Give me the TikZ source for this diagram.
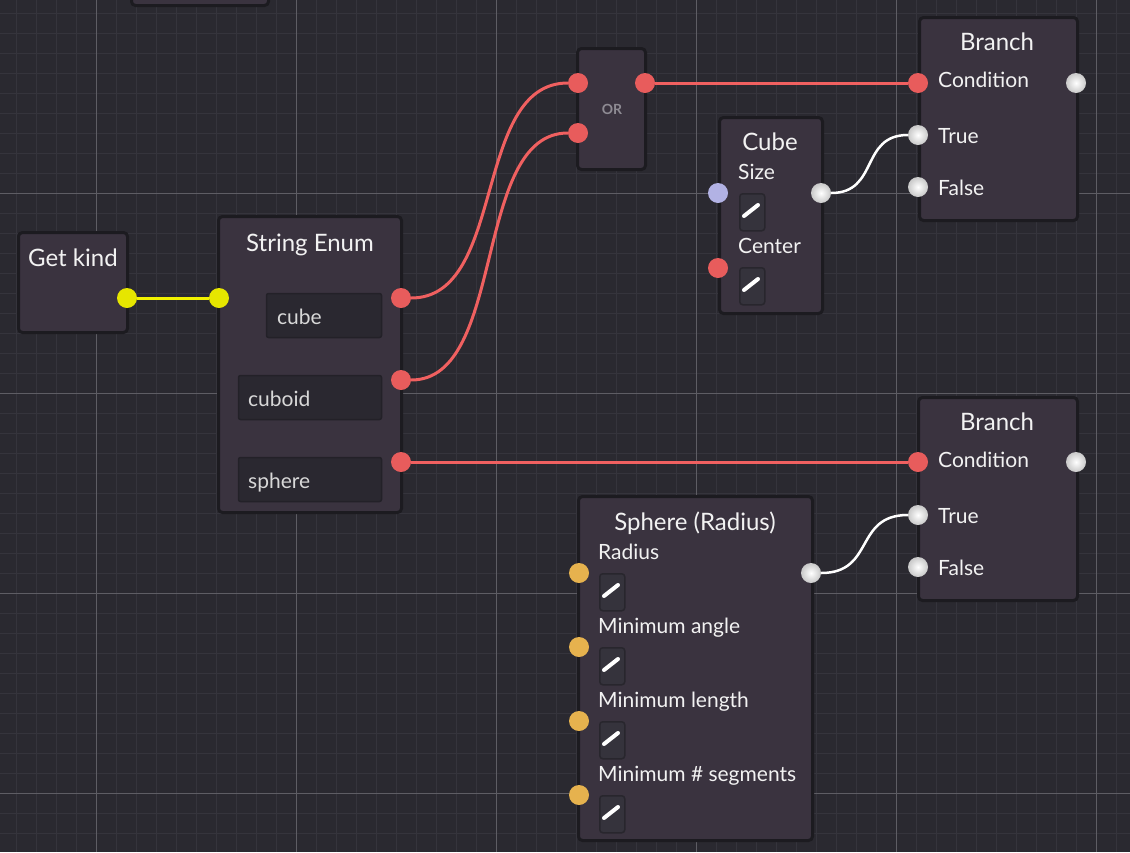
\documentclass[tikz,border=0pt]{standalone}
\usepackage{fontspec}
\setmainfont{Lato}
\definecolor{bg}{HTML}{2A2930}
\definecolor{gridminor}{HTML}{35343C}
\definecolor{gridmajor}{HTML}{5E5D64}
\definecolor{nodefill}{HTML}{3A333F}
\definecolor{nodeborder}{HTML}{1C1B20}
\definecolor{fieldfill}{HTML}{2A2830}
\definecolor{fieldborder}{HTML}{232128}
\definecolor{btnfill}{HTML}{35333C}
\definecolor{btnborder}{HTML}{28262D}
\definecolor{portred}{HTML}{E85C5C}
\definecolor{wirered}{HTML}{F06060}
\definecolor{portyellow}{HTML}{E6E600}
\definecolor{wireyellow}{HTML}{F2F200}
\definecolor{portwhite}{HTML}{E4E4E4}
\definecolor{portlav}{HTML}{B2B2E4}
\definecolor{portorange}{HTML}{E6B24E}
\definecolor{txt}{HTML}{F2F2F2}
\definecolor{fieldtxt}{HTML}{D8D8D8}
\definecolor{ortxt}{HTML}{8E8B93}
\tikzset{
  body/.style={draw=nodeborder, line width=3pt, fill=nodefill, rounded corners=4pt},
  field/.style={draw=fieldborder, line width=1.5pt, fill=fieldfill, rounded corners=2pt},
  btn/.style={draw=btnborder, line width=1.5pt, fill=btnfill, rounded corners=3pt,
    anchor=north west, minimum width=25pt, minimum height=37pt, inner sep=0pt},
  pencil/.style={draw=white, line width=4pt, line cap=round},
  port/.style={circle, inner sep=0pt, minimum size=20pt, fill=#1},
  wport/.style={circle, inner sep=0pt, minimum size=20pt, inner color=white, outer color=portwhite!88!black, shading=radial},
  title/.style={anchor=base, text=txt, font=\fontsize{24}{28}\selectfont, inner sep=0pt},
  lbl/.style={anchor=base west, text=txt, font=\fontsize{21}{25}\selectfont, inner sep=0pt},
  ftxt/.style={anchor=base west, text=fieldtxt, font=\fontsize{21}{25}\selectfont, inner sep=0pt},
  wire/.style={draw=#1, line width=3pt},
  wwire/.style={draw=white, line width=2.5pt},
}
\begin{document}
\begin{tikzpicture}[x=1pt,y=-1pt]
\useasboundingbox (0,0) rectangle (1130,852);
\fill[bg] (0,0) rectangle (1130,852);
% grid
\foreach \i in {0,...,56} \draw[gridminor, line width=1pt] ({16.7+20*\i},0) -- ({16.7+20*\i},852);
\foreach \j in {0,...,42} \draw[gridminor, line width=1pt] (0,{13.3+20*\j}) -- (1130,{13.3+20*\j});
\foreach \i in {0,...,5} \draw[gridmajor, line width=1pt] ({96.7+200*\i},0) -- ({96.7+200*\i},852);
\foreach \j in {0,...,3} \draw[gridmajor, line width=1pt] (0,{193.3+200*\j}) -- (1130,{193.3+200*\j});

% partial node at top
\begin{scope}
\clip (0,0) rectangle (1130,852);
\draw[body] (131.5,-20) rectangle (268.5,5.5);
\end{scope}

% node bodies
\draw[body] (18.5,232.5) rectangle (127.5,332.5);
\node[title] (gktitle) at (73,266) {Get kind};

\draw[body] (218.5,216.5) rectangle (401.5,512.5);
\node[title] (setitle) at (310,251) {String Enum};
\draw[field] (266.5,293.5) rectangle (381.5,337.5);
\draw[field] (238.5,375.5) rectangle (381.5,419.5);
\draw[field] (238.5,457.5) rectangle (381.5,501.5);
\node[ftxt] (fcube) at (277,324) {cube};
\node[ftxt] (fcuboid) at (248,406) {cuboid};
\node[ftxt] (fsphere) at (248,488) {sphere};

\draw[body] (577.5,48.5) rectangle (645.5,169.5);
\node[anchor=center, text=ortxt, font=\fontsize{14}{16}\selectfont\bfseries, inner sep=0pt] (ortitle) at (612,109) {OR};

\draw[body] (719.5,117.5) rectangle (822.5,313.5);
\node[title] (cubetitle) at (770,150) {Cube};
\node[lbl] (lsize) at (738,179) {Size};
\node[lbl] (lcenter) at (738,253) {Center};

\draw[body] (919.5,17.5) rectangle (1077.5,220.5);
\node[title] (b1title) at (997,50) {Branch};
\node[lbl] (b1lc) at (938,87) {Condition};
\node[lbl] (b1lt) at (938,143) {True};
\node[lbl] (b1lf) at (938,195) {False};

\draw[body] (918.5,397.5) rectangle (1077.5,600.5);
\node[title] (b2title) at (997,430) {Branch};
\node[lbl] (b2lc) at (938,467) {Condition};
\node[lbl] (b2lt) at (938,523) {True};
\node[lbl] (b2lf) at (938,575) {False};

\draw[body] (578.5,496.5) rectangle (812.5,840.5);
\node[title] (sptitle) at (695,530) {Sphere (Radius)};
\node[lbl] (lrad) at (598,559) {Radius};
\node[lbl] (lang) at (598,633) {Minimum angle};
\node[lbl] (llen) at (598,707) {Minimum length};
\node[lbl] (lseg) at (598,781) {Minimum \# segments};

% edit buttons
\foreach \n/\x/\y in {cb1/739/193, cb2/739/267, sb1/599/573, sb2/599/647, sb3/599/721, sb4/599/795} {
  \node[btn] (\n) at (\x,\y) {};
  \draw[pencil] ([shift={(5,23)}]\n.north west) -- ([shift={(19,12)}]\n.north west);
}

% ports
\node[port=portyellow] (gkout) at (127,298) {};
\node[port=portyellow] (sein) at (219,298) {};
\node[port=portred] (seo1) at (401,298) {};
\node[port=portred] (seo2) at (401,380) {};
\node[port=portred] (seo3) at (401,462) {};
\node[port=portred] (ori1) at (578,83) {};
\node[port=portred] (ori2) at (578,133) {};
\node[port=portred] (oro) at (645,83) {};
\node[port=portlav] (cbsize) at (718,193) {};
\node[port=portred] (cbcenter) at (718,268) {};
\node[wport] (cbout) at (821,193) {};
\node[port=portred] (b1cond) at (918,83) {};
\node[wport] (b1out) at (1076,83) {};
\node[wport] (b1true) at (918,135) {};
\node[wport] (b1false) at (918,187) {};
\node[port=portred] (b2cond) at (918,462) {};
\node[wport] (b2out) at (1076,462) {};
\node[wport] (b2true) at (918,515) {};
\node[wport] (b2false) at (918,567) {};
\node[port=portorange] (sprad) at (579,573) {};
\node[port=portorange] (spang) at (579,647) {};
\node[port=portorange] (splen) at (579,721) {};
\node[port=portorange] (spseg) at (579,795) {};
\node[wport] (spout) at (811,573) {};

% wires
\draw[wire=wireyellow] (gkout) -- (sein);
\draw[wire=wirered] (seo1) .. controls +(106,0) and +(-106,0) .. (ori1);
\draw[wire=wirered] (seo2) .. controls +(106,0) and +(-106,0) .. (ori2);
\draw[wire=wirered] (oro) -- (b1cond);
\draw[wire=wirered] (seo3) -- (b2cond);
\draw[wwire] (cbout) .. controls +(58,0) and +(-58,0) .. (b1true);
\draw[wwire] (spout) .. controls +(64,0) and +(-64,0) .. (b2true);
\end{tikzpicture}
\end{document}
